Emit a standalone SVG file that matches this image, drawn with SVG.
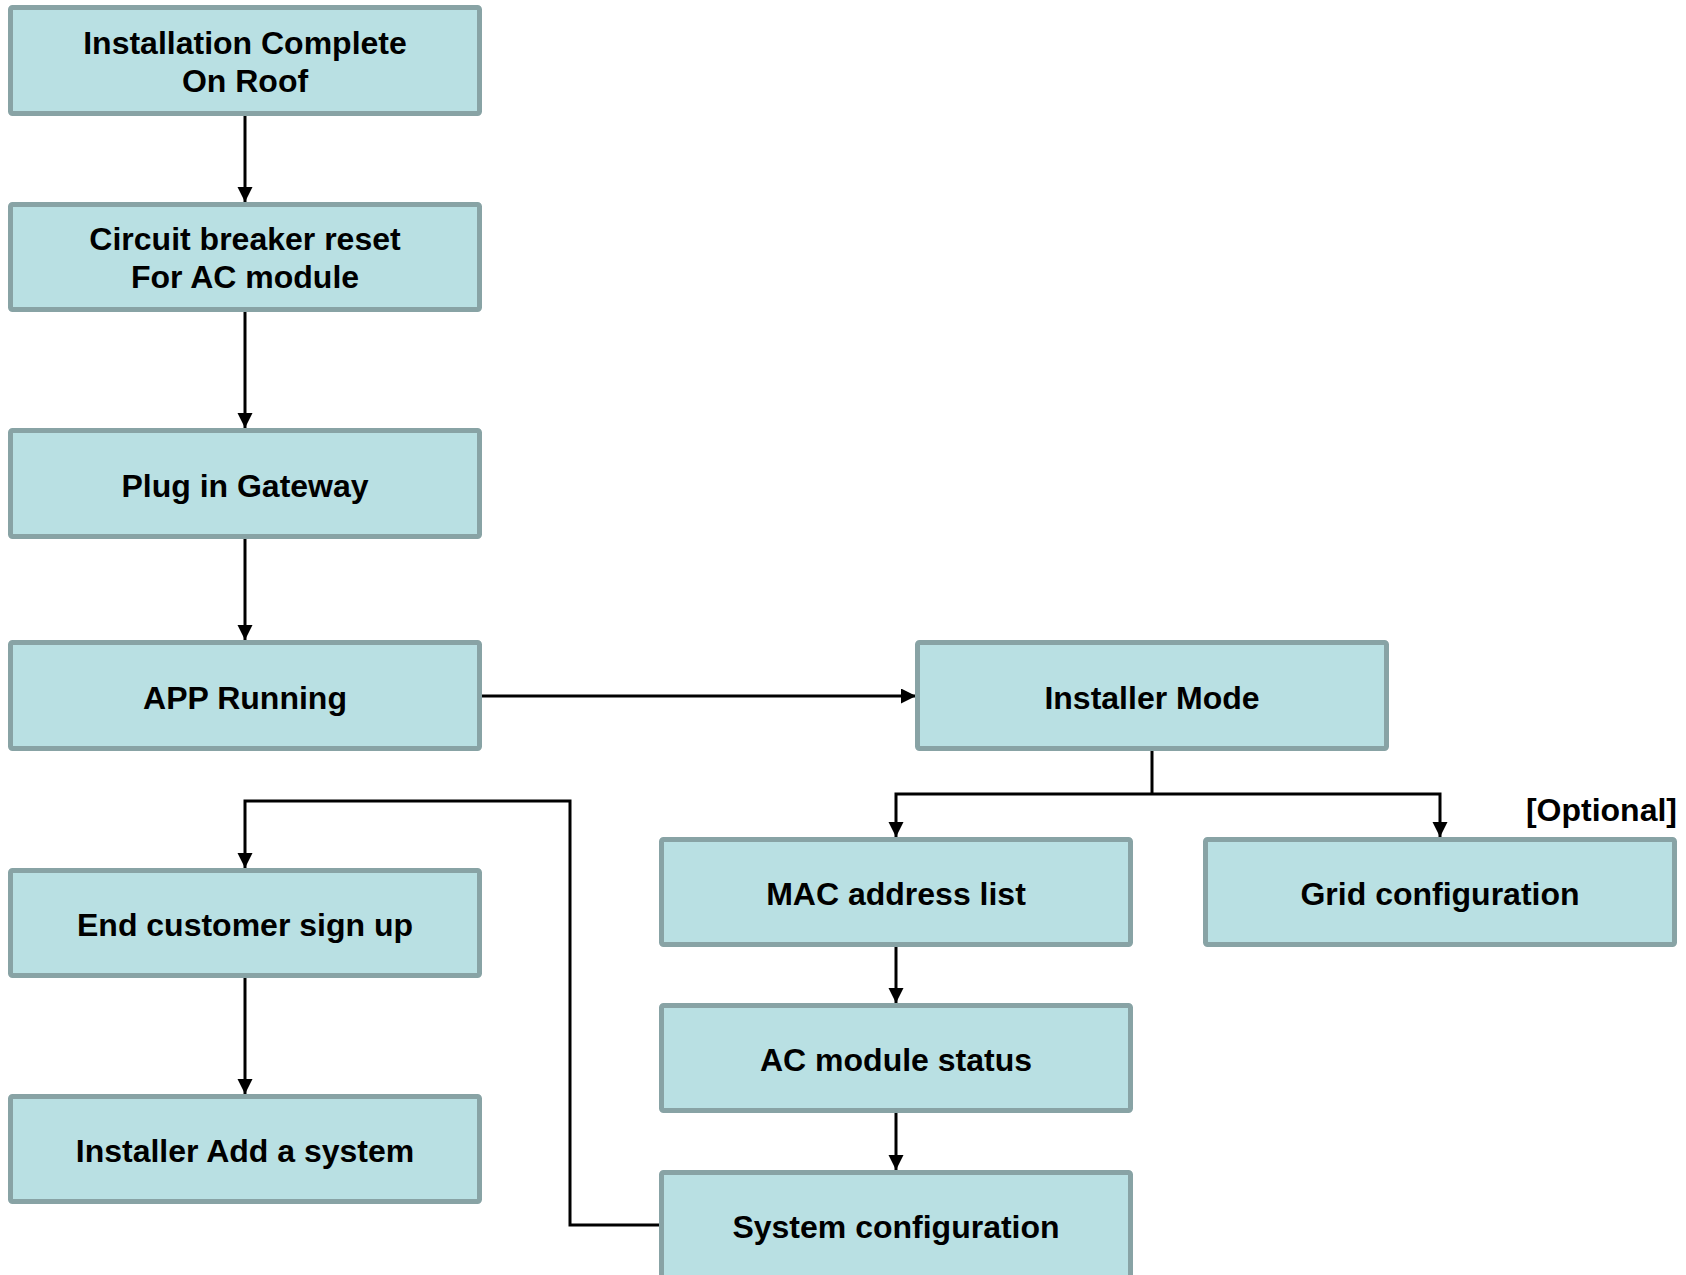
<svg xmlns="http://www.w3.org/2000/svg" width="1686" height="1275" viewBox="0 0 1686 1275">
<style>
.box{fill:#B9E0E3;stroke:#88A3A5;stroke-width:5}
.lbl{font-family:"Liberation Sans",Arial,sans-serif;font-weight:bold;font-size:32px;fill:#000;text-anchor:middle}
.ln{fill:none;stroke:#000;stroke-width:3}
</style>
<defs>
<marker id="ah" markerUnits="userSpaceOnUse" markerWidth="16" markerHeight="16" refX="15" refY="7.5" orient="auto">
<path d="M0,0 L15,7.5 L0,15 z" fill="#000"/>
</marker>
</defs>
<rect width="1686" height="1275" fill="#fff"/>
<g id="connectors">
<line class="ln" x1="245" y1="116" x2="245" y2="202" marker-end="url(#ah)"/>
<line class="ln" x1="245" y1="312" x2="245" y2="428" marker-end="url(#ah)"/>
<line class="ln" x1="245" y1="539" x2="245" y2="640" marker-end="url(#ah)"/>
<line class="ln" x1="482" y1="696" x2="916" y2="696" marker-end="url(#ah)"/>
<polyline class="ln" points="1152,751 1152,794"/>
<polyline class="ln" points="1152,794 896,794 896,837" marker-end="url(#ah)"/>
<polyline class="ln" points="1152,794 1440,794 1440,837" marker-end="url(#ah)"/>
<line class="ln" x1="896" y1="947" x2="896" y2="1003" marker-end="url(#ah)"/>
<line class="ln" x1="896" y1="1113" x2="896" y2="1170" marker-end="url(#ah)"/>
<polyline class="ln" points="660,1225 570,1225 570,801 245,801 245,868" marker-end="url(#ah)"/>
<line class="ln" x1="245" y1="977" x2="245" y2="1094" marker-end="url(#ah)"/>
</g>
<g id="n1"><rect class="box" x="10.5" y="7.5" width="469" height="106" rx="2"/>
<text class="lbl" x="245" y="54">Installation Complete</text><text class="lbl" x="245" y="92">On Roof</text></g>
<g id="n2"><rect class="box" x="10.5" y="204.5" width="469" height="105" rx="2"/>
<text class="lbl" x="245" y="250">Circuit breaker reset</text><text class="lbl" x="245" y="288">For AC module</text></g>
<g id="n3"><rect class="box" x="10.5" y="430.5" width="469" height="106" rx="2"/>
<text class="lbl" x="245" y="496.5">Plug in Gateway</text></g>
<g id="n4"><rect class="box" x="10.5" y="642.5" width="469" height="106" rx="2"/>
<text class="lbl" x="245" y="708.5">APP Running</text></g>
<g id="n5"><rect class="box" x="917.5" y="642.5" width="469" height="106" rx="2"/>
<text class="lbl" x="1152" y="708.5">Installer Mode</text></g>
<g id="n6"><rect class="box" x="661.5" y="839.5" width="469" height="105" rx="2"/>
<text class="lbl" x="896" y="905">MAC address list</text></g>
<g id="n7"><rect class="box" x="1205.5" y="839.5" width="469" height="105" rx="2"/>
<text class="lbl" x="1440" y="905">Grid configuration</text></g>
<g id="n8"><rect class="box" x="10.5" y="870.5" width="469" height="105" rx="2"/>
<text class="lbl" x="245" y="935.5">End customer sign up</text></g>
<g id="n9"><rect class="box" x="661.5" y="1005.5" width="469" height="105" rx="2"/>
<text class="lbl" x="896" y="1070.5">AC module status</text></g>
<g id="n10"><rect class="box" x="10.5" y="1096.5" width="469" height="105" rx="2"/>
<text class="lbl" x="245" y="1161.5">Installer Add a system</text></g>
<g id="n11"><rect class="box" x="661.5" y="1172.5" width="469" height="106" rx="2"/>
<text class="lbl" x="896" y="1237.5">System configuration</text></g>
<text class="lbl" x="1677" y="820.5" style="text-anchor:end">[Optional]</text>
</svg>
